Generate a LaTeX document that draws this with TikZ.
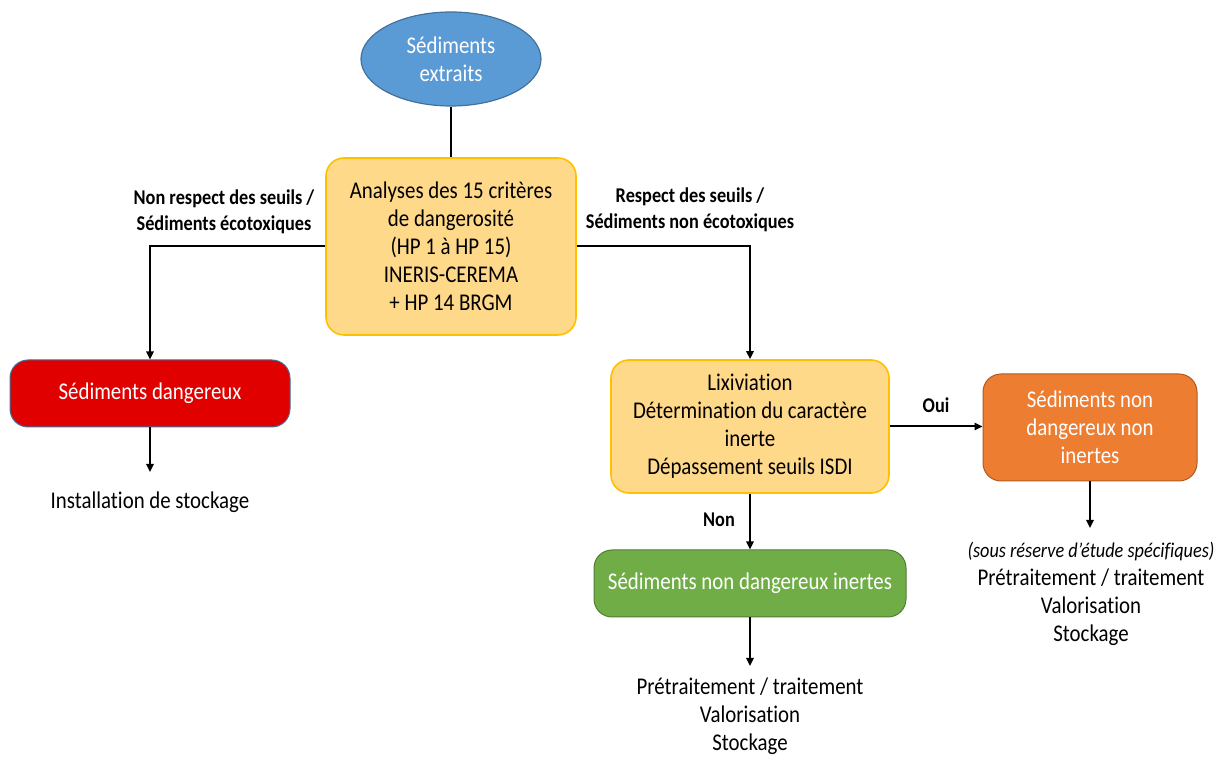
\documentclass[tikz,border=0pt]{standalone}
\usepackage{fontspec}
\setmainfont[FakeStretch=0.87, Ligatures=NoCommon]{Carlito}
\usetikzlibrary{arrows.meta,shapes.geometric}

\definecolor{sedblue}{HTML}{5B9BD5}
\definecolor{sedblueline}{HTML}{41719C}
\definecolor{sedyellow}{HTML}{FFD98A}
\definecolor{sedgold}{HTML}{FFC000}
\definecolor{sedred}{HTML}{E00000}
\definecolor{sedorange}{HTML}{ED7D31}
\definecolor{sedorangeline}{HTML}{AE5A21}
\definecolor{sedgreen}{HTML}{70AD47}
\definecolor{sedgreenline}{HTML}{507E32}

\begin{document}
\begin{tikzpicture}[
  x=0.5pt, y=-0.5pt, % one unit = one pixel of the reference
  every node/.style={font=\fontsize{12}{14}\selectfont, align=center, inner sep=0pt},
  box/.style={rectangle, rounded corners=9pt, line width=0.8pt},
  yellowbox/.style={box, fill=sedyellow, draw=sedgold},
  whitetext/.style={text=white},
  edgelabel/.style={font=\fontsize{10.5}{13}\selectfont\bfseries},
  arr/.style={-{Triangle[length=4pt,width=3.6pt]}, line width=1pt},
  link/.style={line width=1pt}
  ]
\useasboundingbox (0,0) rectangle (1217,758);

% start
\node[ellipse, fill=sedblue, draw=sedblueline, line width=0.6pt, whitetext,
  minimum width=90pt, minimum height=47pt] (extraits) at (451,59) {Sédiments\\extraits};

% analyses
\node[yellowbox, minimum width=125pt, minimum height=88.5pt] (analyses) at (451,246.5)
  {Analyses des 15 critères\\de dangerosité\\(HP 1 à HP 15)\\INERIS-CEREMA\\+ HP 14 BRGM};

% results
\node[box, fill=sedred, draw=sedblueline, line width=0.5pt, whitetext, minimum width=140pt, minimum height=33.5pt]
  (dangereux) at (150,393.5) {Sédiments dangereux};
\node[yellowbox, minimum width=139pt, minimum height=66.5pt] (lixiviation) at (750,426.5)
  {Lixiviation\\Détermination du caractère\\inerte\\Dépassement seuils ISDI};
\node[box, fill=sedorange, draw=sedorangeline, line width=0.5pt, whitetext, minimum width=107pt, minimum height=53.5pt]
  (noninertes) at (1090,427.5) {Sédiments non\\dangereux non\\inertes};
\node[box, fill=sedgreen, draw=sedgreenline, line width=0.5pt, whitetext, minimum width=156pt, minimum height=33.5pt]
  (inertes) at (750,583.5) {Sédiments non dangereux inertes};

% outcomes
\node (stockage) at (150,502) {Installation de stockage};
\node (devenirA) at (1091,594) {{\fontsize{10.5}{14}\selectfont\itshape (sous réserve d’étude spécifiques)}\\Prétraitement / traitement\\Valorisation\\Stockage};
\node (devenirB) at (750,716) {Prétraitement / traitement\\Valorisation\\Stockage};

\coordinate (finA) at (150,472);
\coordinate (finB) at (1090,528);
\coordinate (finC) at (750,666);

% connectors
\draw[link] (extraits) -- (analyses);
\draw[arr] (analyses.west) -| (dangereux.north);
\draw[arr] (analyses.east) -| (lixiviation.north);
\draw[arr] (lixiviation.east) -- (lixiviation.east -| noninertes.west);
\draw[arr] (lixiviation) -- (inertes);
\draw[arr] (dangereux) -- (finA);
\draw[arr] (noninertes) -- (finB);
\draw[arr] (inertes) -- (finC);

% labels
\node[edgelabel] (nonrespect) at (224,212) {Non respect des seuils /\\Sédiments écotoxiques};
\node[edgelabel] (respect) at (690,210) {Respect des seuils /\\Sédiments non écotoxiques};
\node[edgelabel] (oui) at (936,405) {Oui};
\node[edgelabel] (non) at (719,520) {Non};
\end{tikzpicture}
\end{document}
